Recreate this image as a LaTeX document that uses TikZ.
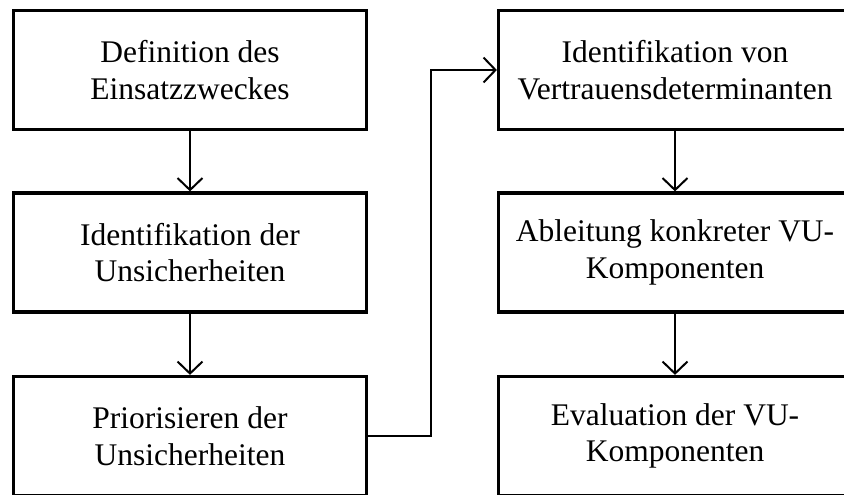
\documentclass[tikz,border=0pt]{standalone}
\usepackage{fontspec}
\setmainfont{Liberation Serif}
\usetikzlibrary{arrows.meta}
\tikzset{
  procbox/.style={draw=black, line width=3.2pt, minimum width=353pt, minimum height=119pt,
    inner sep=0pt, align=center, font=\fontsize{31.5}{36.6}\selectfont},
  conn/.style={draw=black, line width=2pt, -{Straight Barb[length=12pt,width=25pt,line width=2pt]}}
}
\begin{document}
\begin{tikzpicture}[x=1pt,y=-1pt]
\useasboundingbox (0,0) rectangle (844,495);
\fill[white] (0,0) rectangle (844,495);
\begin{scope}
\clip (0,0) rectangle (844,495);
\node[procbox] (a) at (190,70) {Definition des\\Einsatzzweckes};
\node[procbox] (b) at (190,252.5) {Identifikation der\\Unsicherheiten};
\node[procbox] (c) at (190,436) {Priorisieren der\\Unsicherheiten};
\node[procbox] (d) at (675,70) {Identifikation von\\Vertrauensdeterminanten};
\node[procbox] (e) at (675,252.5) {Ableitung konkreter VU-\\Komponenten};
\node[procbox] (f) at (675,436) {Evaluation der VU-\\Komponenten};
\coordinate (k) at (431,0);
\draw[conn] (a.south) -- (b.north);
\draw[conn] (b.south) -- (c.north);
\draw[conn] (d.south) -- (e.north);
\draw[conn] (e.south) -- (f.north);
\draw[conn] (c.east) -- (c.east -| k) -- (k |- d.west) -- (d.west);
\end{scope}
\end{tikzpicture}
\end{document}
